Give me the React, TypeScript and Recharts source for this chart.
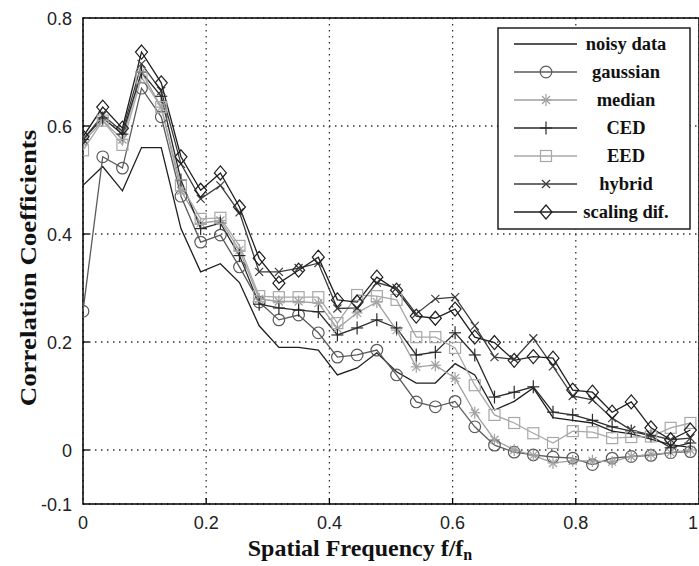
import React from 'react';
import { LineChart, Line, XAxis, YAxis, CartesianGrid, ReferenceArea } from 'recharts';

const freq = [0, 0.032, 0.064, 0.095, 0.127, 0.159, 0.191, 0.223, 0.254, 0.286, 0.318, 0.35, 0.382, 0.413, 0.445, 0.477, 0.509, 0.541, 0.572, 0.604, 0.636, 0.668, 0.7, 0.731, 0.763, 0.795, 0.827, 0.859, 0.89, 0.922, 0.954, 0.986];

const noisyData = [0.49, 0.525, 0.48, 0.56, 0.56, 0.41, 0.33, 0.345, 0.31, 0.23, 0.19, 0.19, 0.185, 0.139, 0.152, 0.18, 0.145, 0.124, 0.124, 0.16, 0.139, 0.074, 0.09, 0.115, 0.06, 0.055, 0.05, 0.035, 0.03, 0.02, 0.01, 0.005];
const gaussianData = [0.257, 0.543, 0.522, 0.67, 0.617, 0.47, 0.385, 0.398, 0.339, 0.274, 0.241, 0.25, 0.217, 0.172, 0.176, 0.185, 0.139, 0.089, 0.08, 0.09, 0.043, 0.009, -0.004, -0.009, -0.013, -0.015, -0.027, -0.015, -0.012, -0.01, -0.005, -0.003];
const medianData = [0.57, 0.61, 0.575, 0.7, 0.635, 0.48, 0.42, 0.425, 0.37, 0.28, 0.275, 0.275, 0.272, 0.225, 0.254, 0.274, 0.222, 0.154, 0.157, 0.133, 0.069, 0.019, 0.0, -0.01, -0.024, -0.02, -0.02, -0.022, -0.012, -0.008, -0.005, 0.0];
const cedData = [0.575, 0.615, 0.585, 0.7, 0.655, 0.5, 0.41, 0.42, 0.36, 0.27, 0.263, 0.259, 0.256, 0.213, 0.226, 0.241, 0.226, 0.176, 0.181, 0.217, 0.176, 0.098, 0.107, 0.117, 0.07, 0.065, 0.055, 0.043, 0.035, 0.026, 0.004, 0.013];
const eedData = [0.555, 0.61, 0.565, 0.69, 0.635, 0.49, 0.428, 0.43, 0.378, 0.285, 0.283, 0.283, 0.283, 0.235, 0.287, 0.285, 0.278, 0.209, 0.209, 0.189, 0.12, 0.065, 0.05, 0.031, 0.013, 0.035, 0.033, 0.022, 0.024, 0.025, 0.041, 0.05];
const hybridData = [0.575, 0.62, 0.59, 0.715, 0.665, 0.53, 0.465, 0.49, 0.44, 0.33, 0.33, 0.337, 0.346, 0.262, 0.263, 0.31, 0.3, 0.252, 0.28, 0.283, 0.23, 0.172, 0.168, 0.207, 0.155, 0.1, 0.093, 0.059, 0.037, 0.028, 0.019, 0.022];
const scalingData = [0.58, 0.635, 0.596, 0.737, 0.68, 0.543, 0.481, 0.513, 0.45, 0.355, 0.309, 0.333, 0.357, 0.278, 0.274, 0.32, 0.296, 0.248, 0.244, 0.261, 0.209, 0.199, 0.166, 0.173, 0.17, 0.111, 0.107, 0.07, 0.089, 0.041, 0.019, 0.037];

const xTicks = [0, 0.2, 0.4, 0.6, 0.8, 1];
const yTicks = [-0.1, 0, 0.2, 0.4, 0.6, 0.8];

const seriesNames = ['noisy data', 'gaussian', 'median', 'CED', 'EED', 'hybrid', 'scaling dif.'];
const seriesKeys = ['noisy', 'gaussian', 'median', 'ced', 'eed', 'hybrid', 'scaling'];
const seriesColors = ['#1e1e1e', '#5a5a5a', '#a0a0a0', '#2a2a2a', '#a8a8a8', '#3c3c3c', '#1e1e1e'];
const seriesMarkers = ['none', 'circle', 'star', 'plus', 'square', 'cross', 'diamond'];

const data = freq.map((f, i) => ({
  f,
  noisy: noisyData[i],
  gaussian: gaussianData[i],
  median: medianData[i],
  ced: cedData[i],
  eed: eedData[i],
  hybrid: hybridData[i],
  scaling: scalingData[i],
}));

function Marker({ kind, x, y, color }: { kind: string; x: number; y: number; color: string }) {
  const sw = 1.2;
  switch (kind) {
    case 'circle':
      return <circle cx={x} cy={y} r={5.8} fill="none" stroke={color} strokeWidth={sw} />;
    case 'square':
      return <rect x={x - 5.5} y={y - 5.5} width={11} height={11} fill="none" stroke={color} strokeWidth={sw} />;
    case 'diamond':
      return <polygon points={`${x},${y - 7} ${x + 6},${y} ${x},${y + 7} ${x - 6},${y}`} fill="none" stroke={color} strokeWidth={sw} />;
    case 'plus':
      return (
        <g stroke={color} strokeWidth={sw}>
          <line x1={x - 6} y1={y} x2={x + 6} y2={y} />
          <line x1={x} y1={y - 6.5} x2={x} y2={y + 6.5} />
        </g>
      );
    case 'cross':
      return (
        <g stroke={color} strokeWidth={sw}>
          <line x1={x - 4} y1={y - 4} x2={x + 4} y2={y + 4} />
          <line x1={x - 4} y1={y + 4} x2={x + 4} y2={y - 4} />
        </g>
      );
    case 'star':
      return (
        <g stroke={color} strokeWidth={sw}>
          <line x1={x - 5.5} y1={y} x2={x + 5.5} y2={y} />
          <line x1={x} y1={y - 6} x2={x} y2={y + 6} />
          <line x1={x - 4} y1={y - 4} x2={x + 4} y2={y + 4} />
          <line x1={x - 4} y1={y + 4} x2={x + 4} y2={y - 4} />
        </g>
      );
    default:
      return null;
  }
}

const makeDot = (kind: string, color: string) => (p: any) => {
  const { cx, cy, index } = p;
  if (kind === 'none' || cx == null || cy == null) return <g key={`d${index}`} />;
  return <g key={`d${index}`}><Marker kind={kind} x={cx} y={cy} color={color} /></g>;
};

const tickFont = '"Liberation Sans", Arial, sans-serif';
const serifFont = '"Liberation Serif", "Times New Roman", serif';

const fmt = (v: number) => (v === 0 ? '0' : v === 1 ? '1' : String(v));

function BottomTick(props: any) {
  const { x, y, payload } = props;
  const v = payload.value;
  return (
    <g>
      {v !== 0 && v !== 1 && <line x1={x} y1={y} x2={x} y2={y - 6} stroke="#000" strokeWidth={1.3} />}
      <text x={v === 1 ? x - 1 : x} y={y + 25} textAnchor={v === 1 ? 'end' : 'middle'} fontFamily={tickFont} fontSize={18} fill="#222">{fmt(v)}</text>
    </g>
  );
}

function TopTick(props: any) {
  const { x, y, payload } = props;
  const v = payload.value;
  if (v === 0 || v === 1) return <g />;
  return <line x1={x} y1={y} x2={x} y2={y + 6} stroke="#000" strokeWidth={1.3} />;
}

function LeftTick(props: any) {
  const { x, y, payload } = props;
  const v = payload.value;
  return (
    <g>
      {v !== -0.1 && v !== 0.8 && <line x1={x} y1={y} x2={x + 6} y2={y} stroke="#000" strokeWidth={1.3} />}
      <text x={x - 11} y={y + 7} textAnchor="end" fontFamily={tickFont} fontSize={18} fill="#222">{fmt(v)}</text>
    </g>
  );
}

function RightTick(props: any) {
  const { x, y, payload } = props;
  const v = payload.value;
  if (v === -0.1 || v === 0.8) return <g />;
  return <line x1={x} y1={y} x2={x - 6} y2={y} stroke="#000" strokeWidth={1.3} />;
}

function LegendBox() {
  const rowY = (i: number) => 17 + 28 * i;
  return (
    <svg width={194} height={203} style={{ position: 'absolute', left: 497, top: 27 }}>
      <rect x={1} y={1} width={192} height={201} fill="#fff" stroke="#111" strokeWidth={1.4} />
      {seriesNames.map((name, i) => (
        <g key={name}>
          <line x1={17} y1={rowY(i)} x2={80} y2={rowY(i)} stroke={seriesColors[i]} strokeWidth={1.3} />
          <Marker kind={seriesMarkers[i]} x={49} y={rowY(i)} color={seriesColors[i]} />
          <text x={129} y={rowY(i) + 6} textAnchor="middle" fontFamily={serifFont} fontWeight="bold" fontSize={18.5} fill="#111">{name}</text>
        </g>
      ))}
    </svg>
  );
}

export default function App() {
  return (
    <div style={{ position: 'absolute', left: 0, top: 0, width: 699, height: 566, overflow: 'hidden', background: '#fff' }}>
      <LineChart width={699} height={566} data={data} margin={{ top: 18, right: 0, bottom: 0, left: 0 }}>
        <CartesianGrid stroke="#333" strokeDasharray="1.5 4.5" strokeWidth={1.3} />
        <XAxis dataKey="f" type="number" domain={[0, 1]} ticks={xTicks} interval={0} height={62} axisLine={false} tickLine={false} tickSize={0} tickMargin={0} tick={<BottomTick />} allowDataOverflow />
        <XAxis xAxisId="top" orientation="top" dataKey="f" type="number" domain={[0, 1]} ticks={xTicks} interval={0} height={0} axisLine={false} tickLine={false} tickSize={0} tickMargin={0} tick={<TopTick />} allowDataOverflow />
        <YAxis type="number" domain={[-0.1, 0.8]} ticks={yTicks} interval={0} width={83} axisLine={false} tickLine={false} tickSize={0} tickMargin={0} tick={<LeftTick />} allowDataOverflow />
        <YAxis yAxisId="right" orientation="right" type="number" domain={[-0.1, 0.8]} ticks={yTicks} interval={0} width={0} axisLine={false} tickLine={false} tickSize={0} tickMargin={0} tick={<RightTick />} allowDataOverflow />
        {seriesKeys.map((k, i) => (
          <Line
            key={k}
            dataKey={k}
            type="linear"
            stroke={seriesColors[i]}
            strokeWidth={1.3}
            dot={makeDot(seriesMarkers[i], seriesColors[i])}
            activeDot={false}
            isAnimationActive={false}
          />
        ))}
        <ReferenceArea x1={0} x2={1} y1={-0.1} y2={0.8} fill="none" stroke="#000" strokeWidth={1.5} ifOverflow="visible" />
      </LineChart>
      <svg width={699} height={566} style={{ position: 'absolute', left: 0, top: 0, pointerEvents: 'none' }}>
        <text x={360} y={556} textAnchor="middle" fontFamily={serifFont} fontWeight="bold" fontSize={24} fill="#111">
          Spatial Frequency f/f<tspan fontSize={16} dy={4}>n</tspan>
        </text>
        <text transform="translate(36,268) rotate(-90) scale(1.17,1)" textAnchor="middle" fontFamily={serifFont} fontWeight="bold" fontSize={23} fill="#111">
          Correlation Coefficients
        </text>
      </svg>
      <LegendBox />
    </div>
  );
}
